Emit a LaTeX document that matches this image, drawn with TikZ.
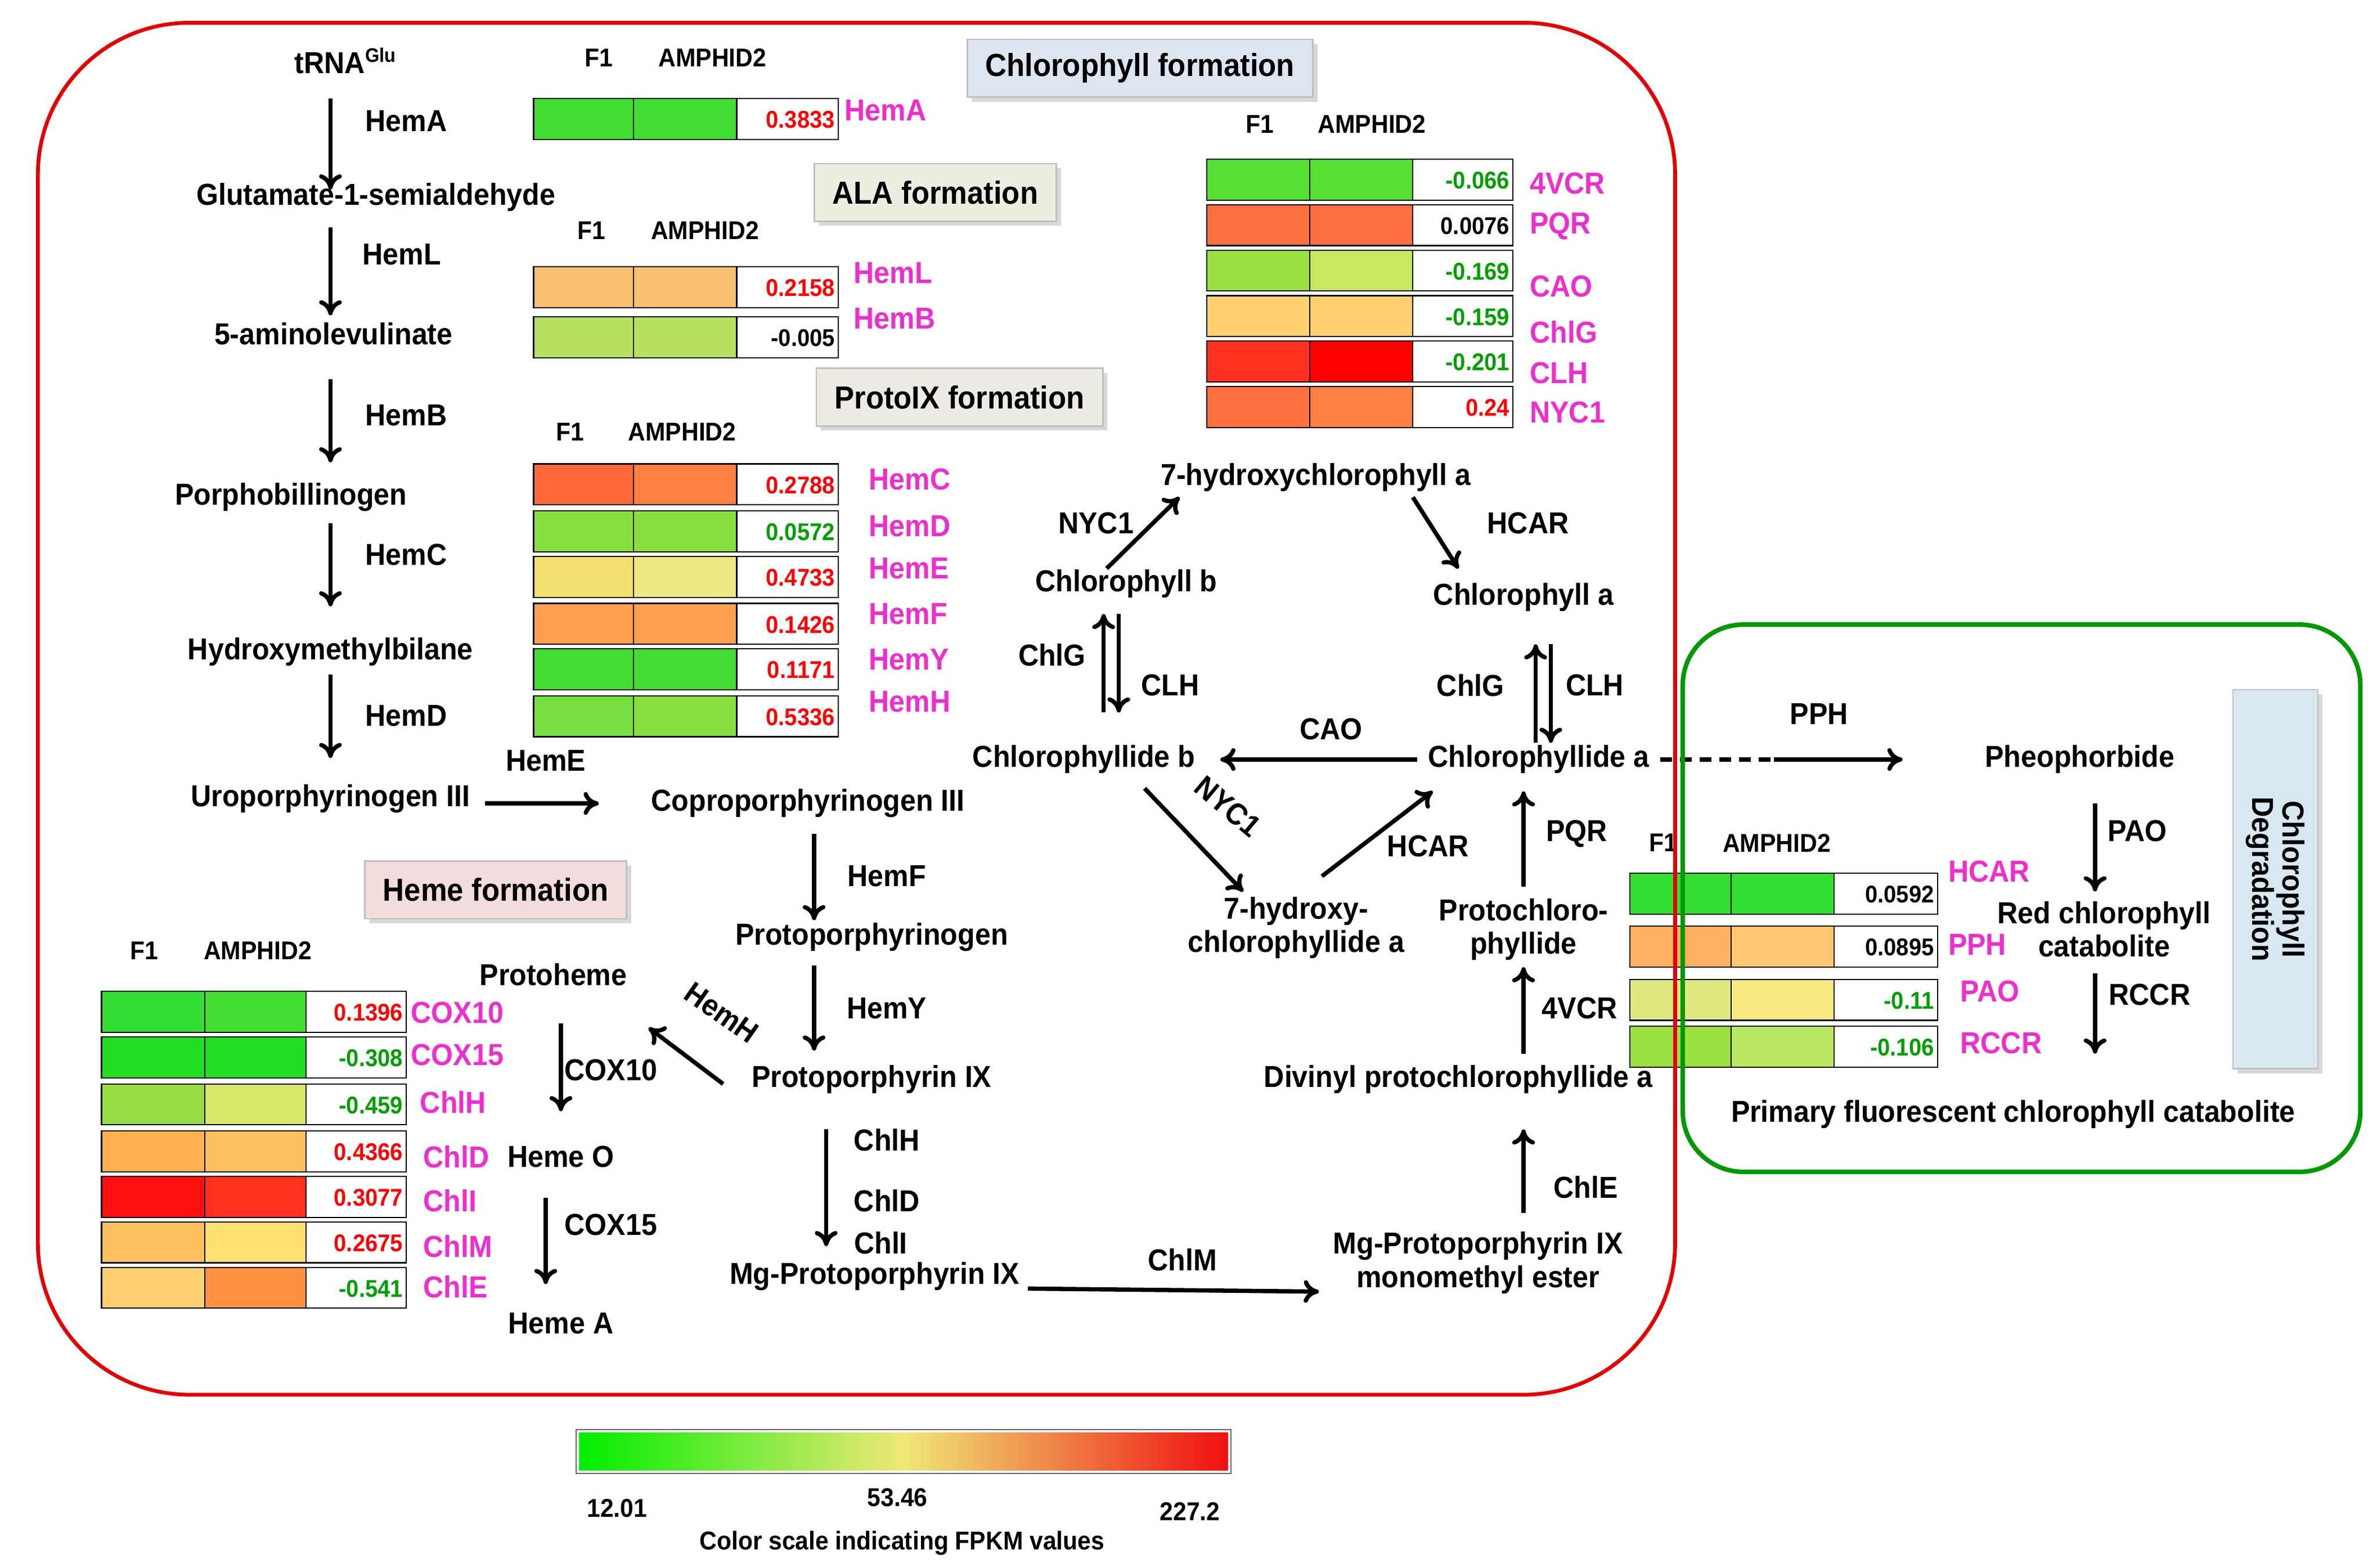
\documentclass[tikz,border=0pt]{standalone}
\usepackage{fontspec}
\setmainfont{Liberation Sans}[FakeStretch=0.93]
\usetikzlibrary{arrows.meta,shadows}
\definecolor{mag}{HTML}{EE2ECC}
\definecolor{vred}{HTML}{FF0000}
\definecolor{vgreen}{HTML}{00A000}
\newcommand\hrow[9]{%
 \definecolor{tca}{HTML}{#6}\definecolor{tcb}{HTML}{#7}%
 \fill[tca] (#1,#5) rectangle (#2,#5+27);
 \fill[tcb] (#2,#5) rectangle (#3,#5+27);
 \draw[line width=0.8] (#1,#5) rectangle (#3,#5+27) (#2,#5)--(#2,#5+27);
 \draw[line width=0.8] (#3,#5)--(#4,#5)--(#4,#5+27)--(#3,#5+27);
 \node[anchor=east,font=\fontsize{16}{18}\selectfont\bfseries,text=#9,inner sep=2pt] at (#4,#5+14) {#8};}
\begin{document}
\begin{tikzpicture}[x=1pt,y=-1pt,
 t/.style={font=\fontsize{20}{22}\selectfont\bfseries,inner sep=1pt,align=center},
 g/.style={font=\fontsize{20}{22}\selectfont\bfseries,text=mag,inner sep=1pt,anchor=west},
 hd/.style={font=\fontsize{17}{19}\selectfont\bfseries,inner sep=1pt},
 a/.style={line width=2.8,-{To[length=10pt,width=15pt]}},
 tb/.style={draw=black!25,line width=1,drop shadow={shadow xshift=3pt,shadow yshift=-3pt,fill=black!30},font=\fontsize{21}{24}\selectfont\bfseries,minimum height=38pt,inner xsep=12pt}]
\useasboundingbox (0,0) rectangle (1568,1034);
% titles
\node[tb,fill={rgb,255:red,221;green,229;blue,240}] (tcf) at (752,45) {Chlorophyll formation};
\node[tb,fill={rgb,255:red,236;green,238;blue,224}] (tala) at (617,127) {ALA formation};
\node[tb,fill={rgb,255:red,236;green,235;blue,227}] (tpro) at (633,262) {ProtoIX formation};
\node[tb,fill={rgb,255:red,243;green,220;blue,220}] (them) at (327,587) {Heme formation};
\node[tb,fill={rgb,255:red,216;green,232;blue,240},minimum width=250pt,minimum height=56pt,rotate=-90,align=center,font=\fontsize{20}{22}\selectfont\bfseries] (tdeg) at (1501,580) {Chlorophyll\\[-2pt]Degradation};
% left chain
\node[t] (trna) at (228,40) {tRNA\textsuperscript{\fontsize{13}{14}\selectfont Glu}};
\node[t] (glu) at (248,130) {Glutamate-1-semialdehyde};
\node[t] (ala) at (220,220) {5-aminolevulinate};
\node[t] (pbg) at (192,328) {Porphobillinogen};
\node[t] (hmb) at (218,430) {Hydroxymethylbilane};
\node[t] (uro) at (218,527) {Uroporphyrinogen III};
\node[t] (copro) at (533,530) {Coproporphyrinogen III};
\node[t] (protog) at (575,618) {Protoporphyrinogen};
\node[t] (protoix) at (575,712) {Protoporphyrin IX};
\node[t] (protoheme) at (365,643) {Protoheme};
\node[t] (hemeo) at (370,763) {Heme O};
\node[t] (hemea) at (370,873) {Heme A};
\node[t] (mgp) at (577,842) {Mg-Protoporphyrin IX};
\node[t] (mgpme) at (975,833) {Mg-Protoporphyrin IX\\monomethyl ester};
\node[t] (dvp) at (962,712) {Divinyl protochlorophyllide a};
\node[t] (pchl) at (1005,613) {Protochloro-\\phyllide};
\node[t] (chlida) at (1015,501) {Chlorophyllide a};
\node[t] (chlidb) at (715,501) {Chlorophyllide b};
\node[t] (hchlida) at (855,612) {7-hydroxy-\\chlorophyllide a};
\node[t] (chlb) at (743,385) {Chlorophyll b};
\node[t] (hchla) at (868,315) {7-hydroxychlorophyll a};
\node[t] (chla) at (1005,394) {Chlorophyll a};
\node[t] (pheo) at (1372,501) {Pheophorbide};
\node[t] (rcc) at (1388,613) {Red chlorophyll\\catabolite};
\node[t] (pfcc) at (1328,735) {Primary fluorescent chlorophyll catabolite};
% arrows
\draw[a] (218,65)--(218,125); \node[t] at (268,80) {HemA};
\draw[a] (218,150)--(218,208); \node[t] at (265,168) {HemL};
\draw[a] (218,250)--(218,305); \node[t] at (268,274) {HemB};
\draw[a] (218,345)--(218,400); \node[t] at (268,366) {HemC};
\draw[a] (218,445)--(218,500); \node[t] at (268,472) {HemD};
\draw[a] (320,530)--(395,530); \node[t] at (360,502) {HemE};
\draw[a] (537,550)--(537,607); \node[t] at (585,578) {HemF};
\draw[a] (537,637)--(537,693); \node[t] at (585,665) {HemY};
\draw[a] (477,715)--(428,678); \node[t,rotate=-35] at (476,668) {HemH};
\draw[a] (370,675)--(370,733); \node[t] at (403,706) {COX10};
\draw[a] (360,790)--(360,847); \node[t] at (403,808) {COX15};
\draw[a] (545,745)--(545,822); \node[t] at (585,752) {ChlH}; \node[t] at (585,792) {ChlD}; \node[t] at (581,820) {ChlI};
\draw[a] (678,850)--(870,852); \node[t] at (780,831) {ChlM};
\draw[a] (1005,800)--(1005,745); \node[t] at (1046,783) {ChlE};
\draw[a] (1005,695)--(1005,638); \node[t] at (1042,665) {4VCR};
\draw[a] (1005,585)--(1005,522); \node[t] at (1040,550) {PQR};
\draw[line width=2.8,dash pattern=on 8pt off 5pt] (1095,501)--(1180,501);
\draw[a] (1170,501)--(1255,501); \node[t] at (1200,471) {PPH};
\draw[a] (1382,530)--(1382,588); \node[t] at (1410,548) {PAO};
\draw[a] (1382,642)--(1382,695); \node[t] at (1418,656) {RCCR};
\draw[a] (935,501)--(805,501); \node[t] at (878,481) {CAO};
\draw[a] (755,520)--(820,588); \node[t,rotate=-40] at (810,532) {NYC1};
\draw[a] (872,578)--(945,522); \node[t] at (942,558) {HCAR};
\draw[a] (728,470)--(728,405); \draw[a] (738,405)--(738,470);
\node[t] at (694,432) {ChlG}; \node[t] at (772,452) {CLH};
\draw[a] (730,375)--(778,328); \node[t] at (723,345) {NYC1};
\draw[a] (932,328)--(962,375); \node[t] at (1008,345) {HCAR};
\draw[a] (1013,490)--(1013,425); \draw[a] (1023,425)--(1023,490);
\node[t] at (970,452) {ChlG}; \node[t] at (1052,452) {CLH};
% heatmaps
\node[hd] at (395,38) {F1}; \node[hd] at (470,38) {AMPHID2};
\hrow{352}{418}{486}{553}{65}{44DD33}{44DD33}{0.3833}{vred} \node[g] at (556,73) {HemA};
\node[hd] at (390,152) {F1}; \node[hd] at (465,152) {AMPHID2};
\hrow{352}{418}{486}{553}{176}{F8C070}{F8C070}{0.2158}{vred} \node[g] at (562,180) {HemL};
\hrow{352}{418}{486}{553}{209}{B8E060}{B8E060}{-0.005}{black} \node[g] at (562,210) {HemB};
\node[hd] at (376,285) {F1}; \node[hd] at (450,285) {AMPHID2};
\hrow{352}{418}{486}{553}{306}{FF6A3A}{FF8040}{0.2788}{vred} \node[g] at (572,316) {HemC};
\hrow{352}{418}{486}{553}{337}{88E040}{88E040}{0.0572}{vgreen} \node[g] at (572,347) {HemD};
\hrow{352}{418}{486}{553}{367}{F5E070}{EEE880}{0.4733}{vred} \node[g] at (572,375) {HemE};
\hrow{352}{418}{486}{553}{398}{FFA050}{FFA050}{0.1426}{vred} \node[g] at (572,405) {HemF};
\hrow{352}{418}{486}{553}{428}{44DD33}{44DD33}{0.1171}{vred} \node[g] at (572,435) {HemY};
\hrow{352}{418}{486}{553}{459}{77E040}{88E040}{0.5336}{vred} \node[g] at (572,463) {HemH};
\node[hd] at (831,82) {F1}; \node[hd] at (905,82) {AMPHID2};
\hrow{796}{864}{932}{998}{105}{55E033}{55E033}{-0.066}{vgreen} \node[g] at (1008,121) {4VCR};
\hrow{796}{864}{932}{998}{135}{FF7040}{FF7040}{0.0076}{black} \node[g] at (1008,149) {PQR};
\hrow{796}{864}{932}{998}{165}{99E040}{C8E860}{-0.169}{vgreen} \node[g] at (1008,189) {CAO};
\hrow{796}{864}{932}{998}{195}{FFD070}{FFD070}{-0.159}{vgreen} \node[g] at (1008,219) {ChlG};
\hrow{796}{864}{932}{998}{225}{FF3020}{FF0000}{-0.201}{vgreen} \node[g] at (1008,246) {CLH};
\hrow{796}{864}{932}{998}{255}{FF7040}{FF8040}{0.24}{vred} \node[g] at (1008,272) {NYC1};
\node[hd] at (95,627) {F1}; \node[hd] at (170,627) {AMPHID2};
\hrow{67}{135}{202}{268}{654}{33DD33}{44DD33}{0.1396}{vred} \node[g] at (270,668) {COX10};
\hrow{67}{135}{202}{268}{684}{22DD22}{22DD22}{-0.308}{vgreen} \node[g] at (270,696) {COX15};
\hrow{67}{135}{202}{268}{715}{99DD44}{D8E868}{-0.459}{vgreen} \node[g] at (276,727) {ChlH};
\hrow{67}{135}{202}{268}{746}{FFB050}{FFC060}{0.4366}{vred} \node[g] at (278,763) {ChlD};
\hrow{67}{135}{202}{268}{776}{FF1010}{FF3020}{0.3077}{vred} \node[g] at (278,792) {ChlI};
\hrow{67}{135}{202}{268}{806}{FFC060}{FFE070}{0.2675}{vred} \node[g] at (278,822) {ChlM};
\hrow{67}{135}{202}{268}{836}{FFD070}{FF9040}{-0.541}{vgreen} \node[g] at (278,849) {ChlE};
\node[hd] at (1097,556) {F1}; \node[hd] at (1172,556) {AMPHID2};
\hrow{1075}{1142}{1210}{1278}{576}{33DD33}{33DD33}{0.0592}{black} \node[g] at (1284,575) {HCAR};
\hrow{1075}{1142}{1210}{1278}{611}{FFB060}{FFC870}{0.0895}{black} \node[g] at (1284,623) {PPH};
\hrow{1075}{1142}{1210}{1278}{646}{E0E880}{F8E880}{-0.11}{vgreen} \node[g] at (1292,654) {PAO};
\hrow{1075}{1142}{1210}{1278}{677}{99E040}{B8E860}{-0.106}{vgreen} \node[g] at (1292,688) {RCCR};
% frames
\draw[red!90!black,line width=2.5,rounded corners=100pt] (25,15) rectangle (1105,920);
\draw[green!60!black,line width=3,rounded corners=40pt] (1110,412) rectangle (1557,773);
% colour bar
\shade[left color={rgb,255:red,0;green,238;blue,0},right color={rgb,255:red,238;green,16;blue,16},middle color={rgb,255:red,240;green,232;blue,120}] (382,945) rectangle (810,970);
\draw[black!60,line width=1] (380,943) rectangle (812,972);
\node[hd] at (407,995) {12.01}; \node[hd] at (592,988) {53.46}; \node[hd] at (785,997) {227.2};
\node[hd] at (595,1018) {Color scale indicating FPKM values};
\end{tikzpicture}
\end{document}
